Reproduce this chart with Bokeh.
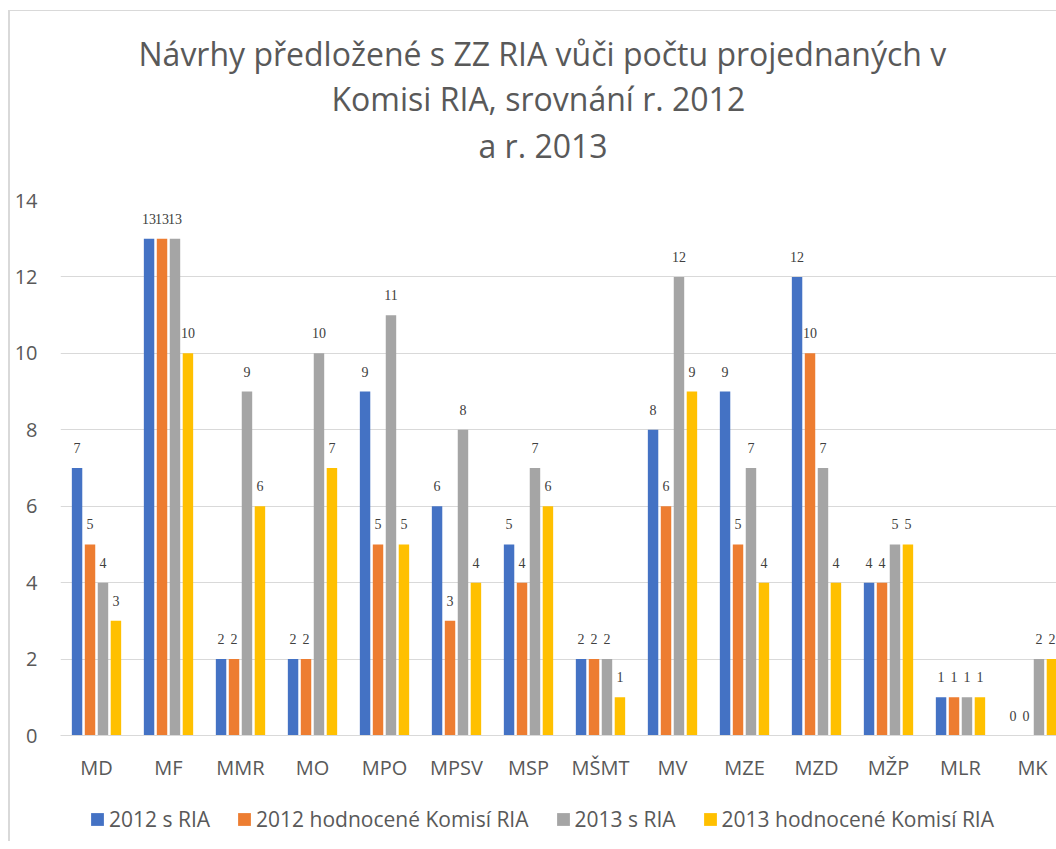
import numpy as np
from bokeh.plotting import figure
from bokeh.layouts import column
from bokeh.models import (Range1d, FixedTicker, ColumnDataSource, LabelSet,
                          Legend, LegendItem, Title)
from bokeh.core.properties import value
from bokeh.embed import file_html
from bokeh.resources import INLINE

categories = ["MD", "MF", "MMR", "MO", "MPO", "MPSV", "MSP", "MŠMT", "MV",
              "MZE", "MZD", "MŽP", "MLR", "MK"]
s2012_ria = [7, 13, 2, 2, 9, 6, 5, 2, 8, 9, 12, 4, 1, 0]
s2012_eval = [5, 13, 2, 2, 5, 3, 4, 2, 6, 5, 10, 4, 1, 0]
s2013_ria = [4, 13, 9, 10, 11, 8, 7, 2, 12, 7, 7, 5, 1, 2]
s2013_eval = [3, 10, 6, 7, 5, 4, 6, 1, 9, 4, 4, 5, 1, 2]
series_names = ["2012 s RIA", "2012 hodnocené Komisí RIA", "2013 s RIA",
                "2013 hodnocené Komisí RIA"]
series_values = [s2012_ria, s2012_eval, s2013_ria, s2013_eval]
colors = ["#4472C4", "#ED7D31", "#A5A5A5", "#FFC000"]
y_ticks = [0, 2, 4, 6, 8, 10, 12, 14]
title_lines = ["Návrhy předložené s ZZ RIA vůči počtu projednaných v",
               "Komisi RIA, srovnání r. 2012",
               "a r. 2013"]

FONT = "Open Sans"
TXT = "#595959"

n = len(categories)
centers = np.arange(n) + 0.5
offsets = [-0.27, -0.09, 0.09, 0.27]
bar_w = 0.145
W = 1046
LEFT = 50
CAT_PX = 72

p = figure(width=W, height=784, output_backend="svg", toolbar_location=None,
           x_range=Range1d(0, (W - LEFT) / CAT_PX), y_range=Range1d(0, 14),
           min_border_left=LEFT, min_border_right=0, min_border_top=189,
           min_border_bottom=60, title=None)
p.outline_line_color = None
p.background_fill_color = "white"
p.border_fill_color = "white"

renderers = []
for vals, off, col, name in zip(series_values, offsets, colors, series_names):
    src = ColumnDataSource(dict(x=centers + off, top=vals,
                                text=[str(v) for v in vals]))
    p.vbar(x="x", top="top", width=bar_w, source=src, fill_color=col,
           line_color=None)
    renderers.append((name, col))
    lbl = LabelSet(x="x", y="top", text="text", source=src, y_offset=20,
                   text_align="center", text_baseline="middle",
                   text_font=value("Liberation Serif"), text_font_size="14px",
                   text_color="#404040")
    p.add_layout(lbl)

# axes
for ax in (p.xaxis, p.yaxis):
    ax.major_tick_line_color = None
    ax.minor_tick_line_color = None
    ax.major_tick_out = 0
    ax.major_tick_in = 0
    ax.minor_tick_out = 0
    ax.minor_tick_in = 0
    ax.major_label_text_font = FONT
    ax.major_label_text_font_size = "20px"
    ax.major_label_text_color = TXT

p.xaxis.ticker = FixedTicker(ticks=list(centers))
p.xaxis.major_label_overrides = {float(c): cat for c, cat in zip(centers, categories)}
p.xaxis.axis_line_color = "#D9D9D9"
p.xaxis.major_label_standoff = 18

p.yaxis.ticker = FixedTicker(ticks=y_ticks)
p.yaxis.axis_line_color = None
p.yaxis.major_label_standoff = 23

p.xgrid.grid_line_color = None
p.ygrid.grid_line_color = "#D9D9D9"
p.ygrid.grid_line_width = 1

# titles (first added is closest to the plot): spacer, then lines bottom-up
spacer = Title(text=" ", text_font=FONT, text_font_size="10px", standoff=16)
p.add_layout(spacer, "above")
standoffs = [0, 0, 4]
title_offsets = [78, 271, 418]
for line, so, off in reversed(list(zip(title_lines, standoffs, title_offsets))):
    t = Title(text=line, align="left", text_font=FONT, text_font_size="32px",
              text_font_style="normal", text_color=TXT, offset=off, standoff=so)
    p.add_layout(t, "above")

# legend figure below the chart
lg = figure(width=W, height=46, output_backend="svg", toolbar_location=None,
            x_range=Range1d(0, 1), y_range=Range1d(0, 1),
            x_axis_location=None, y_axis_location=None,
            min_border_left=0, min_border_right=0, min_border_top=0,
            min_border_bottom=0, title=None)
lg.outline_line_color = None
lg.xgrid.grid_line_color = None
lg.ygrid.grid_line_color = None
items = []
for nm, col in renderers:
    rr = lg.quad(left=[np.nan], right=[np.nan], bottom=[np.nan], top=[np.nan],
                 fill_color=col, line_color=None)
    items.append(LegendItem(label=nm, renderers=[rr]))
legend = Legend(items=items, orientation="horizontal", location=(29, 8),
                label_text_font=FONT, label_text_font_size="21px",
                label_text_color=TXT, glyph_width=16, glyph_height=16,
                spacing=26, label_standoff=4, border_line_color=None,
                background_fill_alpha=0, padding=0, margin=0)
lg.add_layout(legend, "center")

layout = column(p, lg, spacing=0)
layout.styles = {"margin-left": "8px", "margin-top": "10px",
                 "border-left": "2px solid #D9D9D9",
                 "border-top": "1px solid #D9D9D9"}
open("out.html", "w").write(file_html(layout, INLINE))
